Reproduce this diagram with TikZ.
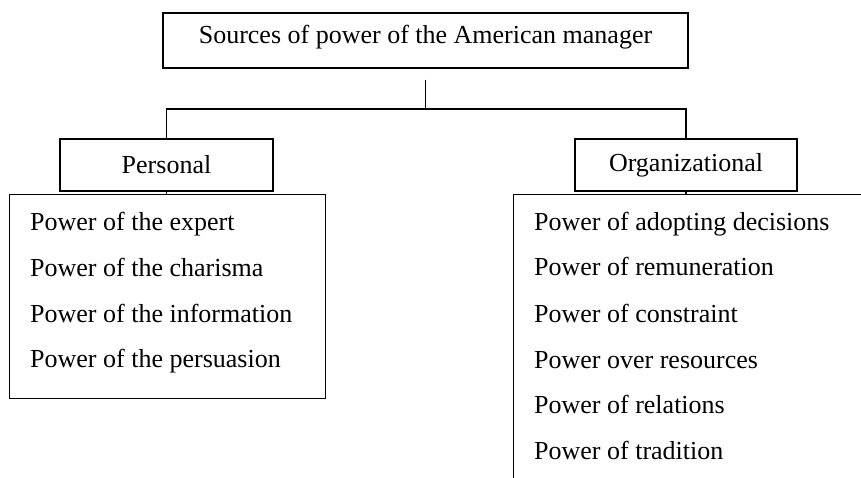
\documentclass[tikz,border=0pt]{standalone}
\usepackage{fontspec}
\setmainfont{Liberation Serif}
\begin{document}
\begin{tikzpicture}[x=1pt,y=-1pt,
  box/.style={draw, line width=1.4pt, rectangle, inner sep=0pt},
  txt/.style={font=\fontsize{26}{30}\selectfont},
  item/.style={anchor=base west, inner sep=0pt, font=\fontsize{26}{30}\selectfont},
  conn/.style={line width=1.4pt}]
\useasboundingbox (0,0) rectangle (861,477);
\clip (0,0) rectangle (861,477);
\fill[white] (0,0) rectangle (861,477);

\node[box, txt, minimum width=525pt, minimum height=55pt, text height=18pt, text depth=13pt] (top) at (425.5,40.5) {Sources of power of the American manager};
\node[box, txt, minimum width=213pt, minimum height=52pt] (pers) at (166.5,165) {Personal};
\node[box, txt, minimum width=222pt, minimum height=52pt] (org) at (686,165) {Organizational};
\node[box, minimum width=316pt, minimum height=204pt, anchor=north west] (plist) at (9,194) {};
\node[box, minimum width=400pt, minimum height=320pt, anchor=north west] (olist) at (513,194) {};

\node[item] (p1) at (30,230) {Power of the expert};
\node[item] (p2) at (30,276) {Power of the charisma};
\node[item] (p3) at (30,322) {Power of the information};
\node[item] (p4) at (30,367) {Power of the persuasion};

\node[item] (o1) at (534,230) {Power of adopting decisions};
\node[item] (o2) at (534,275) {Power of remuneration};
\node[item] (o3) at (534,322) {Power of constraint};
\node[item] (o4) at (534,368) {Power over resources};
\node[item] (o5) at (534,413) {Power of relations};
\node[item] (o6) at (534,459) {Power of tradition};

\coordinate (tb) at ([yshift=-11pt]top.south);
\coordinate (busy) at (0,109);
\coordinate (bus) at (tb |- busy);
\draw[conn] (tb) -- (bus);
\draw[conn] (pers.north) |- (bus) -| (org.north);
\draw[conn] (pers.south) -- (pers.south |- plist.north);
\draw[conn] (org.south) -- (org.south |- olist.north);
\end{tikzpicture}
\end{document}
